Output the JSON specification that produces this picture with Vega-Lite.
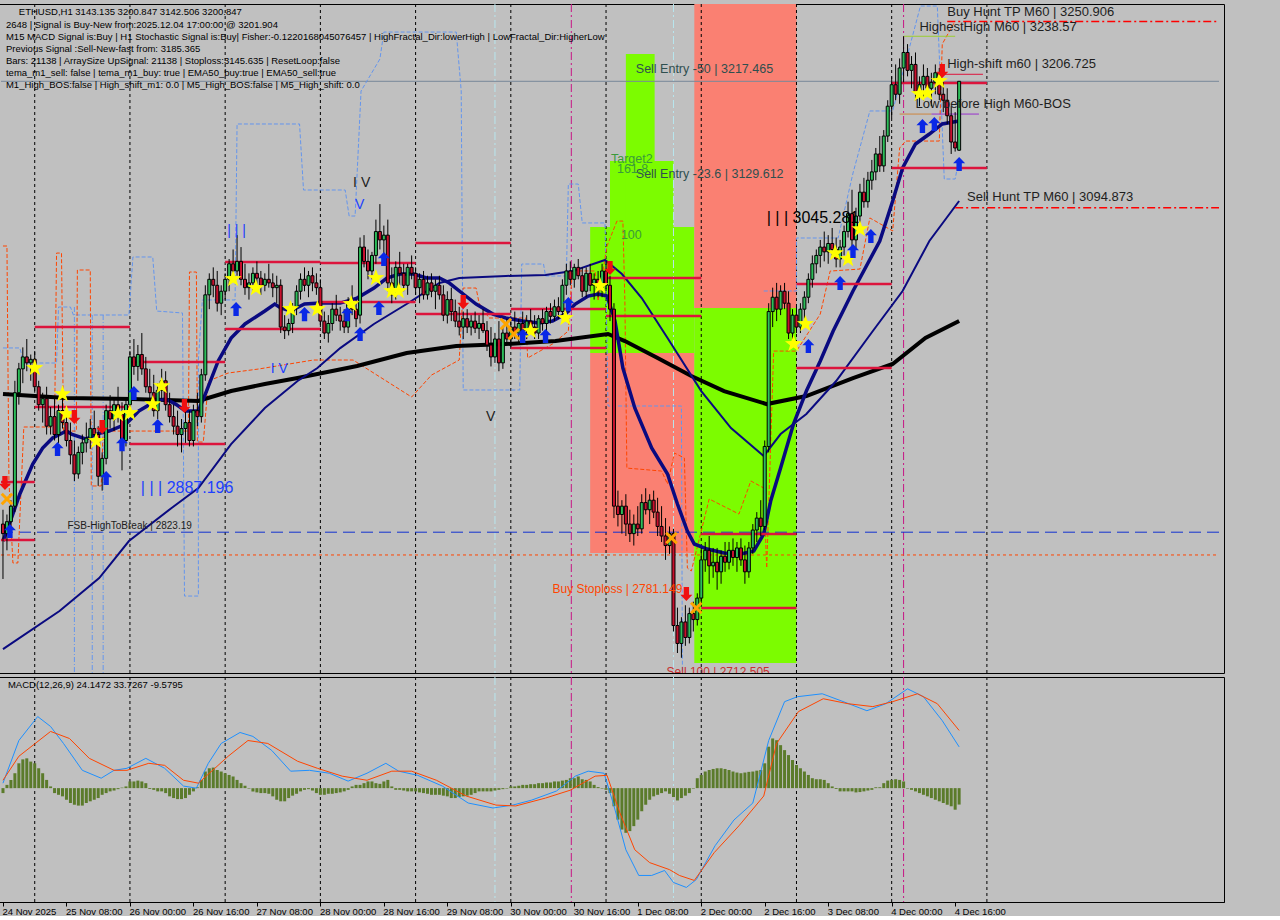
{
"$schema": "https://vega.github.io/schema/vega-lite/v6.json",
"background": "#c0c0c0",
"padding": {"left": -5, "right": 57, "top": 3, "bottom": 0},
"spacing": 2,
"config": {
 "view": {"stroke": "black", "strokeWidth": 1},
 "axis": {"labelFont": "Liberation Sans", "labelFontSize": 9.5, "labelColor": "black", "domainColor": "black", "tickColor": "black", "grid": false, "title": null, "labelFlush": false},
 "text": {"font": "Liberation Sans"}
},
"datasets": {
 "k": [
{"i":0,"o":2830,"h":2842,"l":2784,"c":2822,"g":-2.9},{"i":1,"o":2822,"h":2838,"l":2808,"c":2832,"g":1.9},{"i":2,"o":2832,"h":2850,"l":2825,"c":2845,"g":4.8},{"i":3,"o":2845,"h":2950,"l":2840,"c":2940,"g":8.7},{"i":4,"o":2940,"h":2965,"l":2930,"c":2960,"g":14.5},{"i":5,"o":2960,"h":2978,"l":2948,"c":2970,"g":16.8},{"i":6,"o":2970,"h":2985,"l":2958,"c":2965,"g":17.4},{"i":7,"o":2965,"h":2972,"l":2950,"c":2968,"g":15.5},{"i":8,"o":2968,"h":2975,"l":2940,"c":2945,"g":14.5},{"i":9,"o":2945,"h":2950,"l":2925,"c":2930,"g":11.6},
{"i":10,"o":2930,"h":2940,"l":2915,"c":2935,"g":8.7},{"i":11,"o":2935,"h":2945,"l":2905,"c":2912,"g":4.8},{"i":12,"o":2912,"h":2928,"l":2905,"c":2920,"g":1.0},{"i":13,"o":2920,"h":2935,"l":2900,"c":2905,"g":-2.9},{"i":14,"o":2905,"h":2930,"l":2898,"c":2925,"g":-3.9},{"i":15,"o":2925,"h":2940,"l":2910,"c":2915,"g":-4.8},{"i":16,"o":2915,"h":2925,"l":2895,"c":2900,"g":-6.8},{"i":17,"o":2900,"h":2915,"l":2880,"c":2888,"g":-8.7},{"i":18,"o":2888,"h":2900,"l":2866,"c":2872,"g":-9.7},{"i":19,"o":2872,"h":2895,"l":2868,"c":2890,"g":-10.2},
{"i":20,"o":2890,"h":2905,"l":2880,"c":2898,"g":-10.2},{"i":21,"o":2898,"h":2915,"l":2890,"c":2902,"g":-8.7},{"i":22,"o":2902,"h":2918,"l":2893,"c":2910,"g":-7.7},{"i":23,"o":2910,"h":2925,"l":2900,"c":2905,"g":-6.8},{"i":24,"o":2905,"h":2912,"l":2862,"c":2870,"g":-5.8},{"i":25,"o":2870,"h":2890,"l":2858,"c":2885,"g":-3.9},{"i":26,"o":2885,"h":2930,"l":2880,"c":2925,"g":-2.9},{"i":27,"o":2925,"h":2938,"l":2910,"c":2918,"g":-1.9},{"i":28,"o":2918,"h":2935,"l":2908,"c":2930,"g":-1.4},{"i":29,"o":2930,"h":2945,"l":2915,"c":2922,"g":-0.6},
{"i":30,"o":2922,"h":2932,"l":2875,"c":2900,"g":0.3},{"i":31,"o":2900,"h":2935,"l":2895,"c":2930,"g":1.0},{"i":32,"o":2930,"h":2975,"l":2925,"c":2970,"g":3.9},{"i":33,"o":2970,"h":2985,"l":2955,"c":2962,"g":3.9},{"i":34,"o":2962,"h":2980,"l":2950,"c":2972,"g":4.4},{"i":35,"o":2972,"h":2990,"l":2955,"c":2960,"g":3.9},{"i":36,"o":2960,"h":2970,"l":2940,"c":2945,"g":2.9},{"i":37,"o":2945,"h":2960,"l":2930,"c":2940,"g":-0.5},{"i":38,"o":2940,"h":2955,"l":2920,"c":2925,"g":-1.0},{"i":39,"o":2925,"h":2948,"l":2918,"c":2942,"g":-1.9},
{"i":40,"o":2942,"h":2960,"l":2935,"c":2950,"g":-1.9},{"i":41,"o":2950,"h":2958,"l":2925,"c":2930,"g":-2.9},{"i":42,"o":2930,"h":2940,"l":2915,"c":2920,"g":-4.8},{"i":43,"o":2920,"h":2930,"l":2905,"c":2912,"g":-5.8},{"i":44,"o":2912,"h":2925,"l":2895,"c":2905,"g":-6.4},{"i":45,"o":2905,"h":2918,"l":2890,"c":2910,"g":-6.4},{"i":46,"o":2910,"h":2928,"l":2898,"c":2915,"g":-5.8},{"i":47,"o":2915,"h":2925,"l":2895,"c":2900,"g":-3.9},{"i":48,"o":2900,"h":2930,"l":2895,"c":2925,"g":-1.9},{"i":49,"o":2925,"h":2940,"l":2912,"c":2920,"g":0.5},
{"i":50,"o":2920,"h":2960,"l":2915,"c":2955,"g":4.8},{"i":51,"o":2955,"h":3030,"l":2950,"c":3022,"g":9.7},{"i":52,"o":3022,"h":3040,"l":3010,"c":3035,"g":11.6},{"i":53,"o":3035,"h":3045,"l":3020,"c":3030,"g":12.0},{"i":54,"o":3030,"h":3042,"l":3008,"c":3015,"g":10.6},{"i":55,"o":3015,"h":3030,"l":3005,"c":3025,"g":9.7},{"i":56,"o":3025,"h":3040,"l":3018,"c":3035,"g":8.7},{"i":57,"o":3035,"h":3052,"l":3025,"c":3048,"g":7.7},{"i":58,"o":3048,"h":3060,"l":3035,"c":3042,"g":6.8},{"i":59,"o":3042,"h":3072,"l":3038,"c":3050,"g":4.8},
{"i":60,"o":3050,"h":3062,"l":3030,"c":3035,"g":2.9},{"i":61,"o":3035,"h":3048,"l":3022,"c":3028,"g":1.4},{"i":62,"o":3028,"h":3040,"l":3018,"c":3032,"g":-0.3},{"i":63,"o":3032,"h":3045,"l":3025,"c":3040,"g":-1.9},{"i":64,"o":3040,"h":3050,"l":3030,"c":3036,"g":-2.5},{"i":65,"o":3036,"h":3042,"l":3022,"c":3030,"g":-2.9},{"i":66,"o":3030,"h":3040,"l":3025,"c":3035,"g":-2.9},{"i":67,"o":3035,"h":3048,"l":3028,"c":3032,"g":-3.3},{"i":68,"o":3032,"h":3040,"l":3020,"c":3028,"g":-4.8},{"i":69,"o":3028,"h":3038,"l":3015,"c":3030,"g":-6.8},
{"i":70,"o":3030,"h":3035,"l":2990,"c":2995,"g":-7.7},{"i":71,"o":2995,"h":3005,"l":2985,"c":2992,"g":-7.7},{"i":72,"o":2992,"h":3002,"l":2988,"c":2998,"g":-5.8},{"i":73,"o":2998,"h":3015,"l":2990,"c":3012,"g":-4.4},{"i":74,"o":3012,"h":3030,"l":3005,"c":3025,"g":-3.3},{"i":75,"o":3025,"h":3040,"l":3018,"c":3035,"g":-1.9},{"i":76,"o":3035,"h":3045,"l":3025,"c":3030,"g":-1.0},{"i":77,"o":3030,"h":3042,"l":3020,"c":3038,"g":-0.6},{"i":78,"o":3038,"h":3045,"l":3025,"c":3032,"g":-1.4},{"i":79,"o":3032,"h":3040,"l":3022,"c":3028,"g":-2.9},
{"i":80,"o":3028,"h":3035,"l":2995,"c":3000,"g":-3.9},{"i":81,"o":3000,"h":3008,"l":2985,"c":2990,"g":-3.9},{"i":82,"o":2990,"h":3005,"l":2982,"c":2998,"g":-3.3},{"i":83,"o":2998,"h":3015,"l":2992,"c":3010,"g":-3.3},{"i":84,"o":3010,"h":3022,"l":3000,"c":3005,"g":-2.9},{"i":85,"o":3005,"h":3012,"l":2992,"c":3000,"g":-2.5},{"i":86,"o":3000,"h":3010,"l":2990,"c":2995,"g":-1.9},{"i":87,"o":2995,"h":3020,"l":2990,"c":3015,"g":-1.0},{"i":88,"o":3015,"h":3030,"l":3005,"c":3010,"g":1.0},{"i":89,"o":3010,"h":3018,"l":2995,"c":3002,"g":1.9},
{"i":90,"o":3005,"h":3070,"l":2998,"c":3062,"g":1.9},{"i":91,"o":3062,"h":3072,"l":3045,"c":3050,"g":2.9},{"i":92,"o":3050,"h":3060,"l":3035,"c":3042,"g":3.9},{"i":93,"o":3042,"h":3058,"l":3035,"c":3055,"g":3.9},{"i":94,"o":3055,"h":3085,"l":3048,"c":3075,"g":2.9},{"i":95,"o":3075,"h":3098,"l":3060,"c":3068,"g":2.5},{"i":96,"o":3068,"h":3080,"l":3055,"c":3072,"g":3.9},{"i":97,"o":3072,"h":3085,"l":3025,"c":3032,"g":4.8},{"i":98,"o":3032,"h":3045,"l":3015,"c":3022,"g":1.0},{"i":99,"o":3022,"h":3050,"l":3018,"c":3045,"g":-1.0},
{"i":100,"o":3045,"h":3058,"l":3030,"c":3040,"g":-1.0},{"i":101,"o":3040,"h":3048,"l":3025,"c":3030,"g":-1.4},{"i":102,"o":3030,"h":3048,"l":3022,"c":3045,"g":-1.9},{"i":103,"o":3045,"h":3055,"l":3035,"c":3040,"g":-1.9},{"i":104,"o":3040,"h":3045,"l":3022,"c":3028,"g":-1.9},{"i":105,"o":3028,"h":3040,"l":3015,"c":3035,"g":-2.5},{"i":106,"o":3035,"h":3042,"l":3018,"c":3022,"g":-2.9},{"i":107,"o":3022,"h":3038,"l":3018,"c":3032,"g":-3.3},{"i":108,"o":3032,"h":3040,"l":3020,"c":3025,"g":-3.9},{"i":109,"o":3025,"h":3035,"l":3010,"c":3030,"g":-3.9},
{"i":110,"o":3030,"h":3038,"l":3018,"c":3022,"g":-3.9},{"i":111,"o":3022,"h":3030,"l":3000,"c":3005,"g":-4.4},{"i":112,"o":3005,"h":3025,"l":2998,"c":3018,"g":-4.8},{"i":113,"o":3018,"h":3028,"l":3000,"c":3008,"g":-5.8},{"i":114,"o":3008,"h":3018,"l":2995,"c":3000,"g":-5.8},{"i":115,"o":3000,"h":3012,"l":2988,"c":2995,"g":-5.2},{"i":116,"o":2995,"h":3008,"l":2985,"c":3002,"g":-4.8},{"i":117,"o":3002,"h":3010,"l":2990,"c":2995,"g":-4.4},{"i":118,"o":2995,"h":3005,"l":2988,"c":3000,"g":-3.9},{"i":119,"o":3000,"h":3008,"l":2990,"c":2994,"g":-2.9},
{"i":120,"o":2994,"h":3005,"l":2985,"c":2998,"g":-1.9},{"i":121,"o":2998,"h":3010,"l":2990,"c":2992,"g":-1.9},{"i":122,"o":2992,"h":3000,"l":2975,"c":2980,"g":-1.9},{"i":123,"o":2980,"h":2995,"l":2962,"c":2970,"g":-1.9},{"i":124,"o":2970,"h":2990,"l":2965,"c":2985,"g":-1.4},{"i":125,"o":2985,"h":3000,"l":2958,"c":2965,"g":-1.0},{"i":126,"o":2965,"h":2995,"l":2960,"c":2990,"g":-0.6},{"i":127,"o":2990,"h":3002,"l":2980,"c":2985,"g":-0.3},{"i":128,"o":2985,"h":3000,"l":2978,"c":2995,"g":1.0},{"i":129,"o":2995,"h":3008,"l":2985,"c":2990,"g":1.0},
{"i":130,"o":2990,"h":3002,"l":2982,"c":2998,"g":1.4},{"i":131,"o":2998,"h":3008,"l":2988,"c":2992,"g":1.9},{"i":132,"o":2992,"h":3005,"l":2985,"c":3000,"g":1.9},{"i":133,"o":3000,"h":3010,"l":2990,"c":2995,"g":2.3},{"i":134,"o":2995,"h":3005,"l":2985,"c":2990,"g":2.3},{"i":135,"o":2990,"h":3005,"l":2985,"c":3002,"g":2.9},{"i":136,"o":3002,"h":3010,"l":2992,"c":2998,"g":2.9},{"i":137,"o":2998,"h":3012,"l":2990,"c":3008,"g":3.3},{"i":138,"o":3008,"h":3015,"l":2998,"c":3004,"g":3.3},{"i":139,"o":3004,"h":3018,"l":3000,"c":3012,"g":3.9},
{"i":140,"o":3012,"h":3020,"l":3002,"c":3008,"g":3.9},{"i":141,"o":3008,"h":3035,"l":3005,"c":3030,"g":4.4},{"i":142,"o":3030,"h":3048,"l":3022,"c":3042,"g":4.8},{"i":143,"o":3042,"h":3050,"l":3030,"c":3035,"g":5.8},{"i":144,"o":3035,"h":3048,"l":3028,"c":3045,"g":5.8},{"i":145,"o":3045,"h":3052,"l":3035,"c":3038,"g":6.8},{"i":146,"o":3038,"h":3045,"l":3020,"c":3025,"g":5.2},{"i":147,"o":3025,"h":3045,"l":3020,"c":3040,"g":4.8},{"i":148,"o":3040,"h":3048,"l":3025,"c":3030,"g":3.9},{"i":149,"o":3030,"h":3040,"l":3018,"c":3035,"g":1.9},
{"i":150,"o":3035,"h":3042,"l":3020,"c":3028,"g":0.6},{"i":151,"o":3028,"h":3048,"l":3020,"c":3042,"g":-0.3},{"i":152,"o":3042,"h":3050,"l":3025,"c":3030,"g":-1.0},{"i":153,"o":3030,"h":3038,"l":3000,"c":3010,"g":-2.9},{"i":154,"o":3010,"h":3015,"l":2835,"c":2845,"g":-10.6},{"i":155,"o":2845,"h":2858,"l":2828,"c":2838,"g":-18.4},{"i":156,"o":2838,"h":2850,"l":2822,"c":2845,"g":-24.2},{"i":157,"o":2845,"h":2855,"l":2820,"c":2830,"g":-26.1},{"i":158,"o":2830,"h":2842,"l":2815,"c":2822,"g":-25.1},{"i":159,"o":2822,"h":2838,"l":2812,"c":2830,"g":-22.2},
{"i":160,"o":2830,"h":2845,"l":2820,"c":2826,"g":-18.4},{"i":161,"o":2826,"h":2855,"l":2822,"c":2848,"g":-13.5},{"i":162,"o":2848,"h":2860,"l":2838,"c":2842,"g":-9.7},{"i":163,"o":2842,"h":2855,"l":2830,"c":2850,"g":-6.8},{"i":164,"o":2850,"h":2858,"l":2835,"c":2840,"g":-4.8},{"i":165,"o":2840,"h":2852,"l":2820,"c":2828,"g":-3.9},{"i":166,"o":2828,"h":2845,"l":2815,"c":2820,"g":-2.9},{"i":167,"o":2820,"h":2835,"l":2800,"c":2812,"g":-1.9},{"i":168,"o":2812,"h":2828,"l":2805,"c":2822,"g":-3.3},{"i":169,"o":2822,"h":2826,"l":2740,"c":2745,"g":-5.2},
{"i":170,"o":2745,"h":2760,"l":2722,"c":2730,"g":-7.2},{"i":171,"o":2730,"h":2752,"l":2718,"c":2748,"g":-5.8},{"i":172,"o":2748,"h":2762,"l":2728,"c":2735,"g":-4.4},{"i":173,"o":2735,"h":2760,"l":2730,"c":2755,"g":-2.9},{"i":174,"o":2755,"h":2765,"l":2740,"c":2750,"g":-0.3},{"i":175,"o":2750,"h":2772,"l":2745,"c":2768,"g":5.8},{"i":176,"o":2768,"h":2810,"l":2762,"c":2800,"g":7.7},{"i":177,"o":2800,"h":2815,"l":2790,"c":2808,"g":9.7},{"i":178,"o":2808,"h":2820,"l":2780,"c":2795,"g":10.6},{"i":179,"o":2795,"h":2810,"l":2785,"c":2798,"g":11.2},
{"i":180,"o":2798,"h":2810,"l":2775,"c":2790,"g":11.6},{"i":181,"o":2790,"h":2808,"l":2780,"c":2803,"g":11.6},{"i":182,"o":2803,"h":2815,"l":2790,"c":2798,"g":11.2},{"i":183,"o":2798,"h":2815,"l":2792,"c":2808,"g":10.6},{"i":184,"o":2808,"h":2818,"l":2795,"c":2802,"g":9.7},{"i":185,"o":2802,"h":2815,"l":2790,"c":2810,"g":9.1},{"i":186,"o":2810,"h":2818,"l":2795,"c":2800,"g":8.7},{"i":187,"o":2800,"h":2812,"l":2780,"c":2790,"g":9.1},{"i":188,"o":2790,"h":2815,"l":2785,"c":2810,"g":9.5},{"i":189,"o":2810,"h":2830,"l":2805,"c":2825,"g":9.7},
{"i":190,"o":2825,"h":2840,"l":2815,"c":2835,"g":10.2},{"i":191,"o":2835,"h":2850,"l":2820,"c":2828,"g":10.6},{"i":192,"o":2828,"h":2900,"l":2825,"c":2895,"g":14.5},{"i":193,"o":2895,"h":3015,"l":2890,"c":3008,"g":24.2},{"i":194,"o":3008,"h":3028,"l":2995,"c":3020,"g":29.0},{"i":195,"o":3020,"h":3032,"l":3000,"c":3010,"g":28.0},{"i":196,"o":3010,"h":3030,"l":3005,"c":3025,"g":25.1},{"i":197,"o":3025,"h":3032,"l":3010,"c":3015,"g":22.2},{"i":198,"o":3015,"h":3025,"l":2985,"c":2990,"g":19.3},{"i":199,"o":2990,"h":3010,"l":2982,"c":3005,"g":16.4},
{"i":200,"o":3005,"h":3012,"l":2990,"c":2995,"g":13.5},{"i":201,"o":2995,"h":3015,"l":2990,"c":3010,"g":11.6},{"i":202,"o":3010,"h":3025,"l":3002,"c":3020,"g":9.7},{"i":203,"o":3020,"h":3040,"l":3015,"c":3035,"g":7.7},{"i":204,"o":3035,"h":3055,"l":3028,"c":3048,"g":5.8},{"i":205,"o":3048,"h":3060,"l":3040,"c":3055,"g":5.2},{"i":206,"o":3055,"h":3068,"l":3045,"c":3062,"g":5.2},{"i":207,"o":3062,"h":3075,"l":3050,"c":3058,"g":4.8},{"i":208,"o":3058,"h":3072,"l":3048,"c":3065,"g":2.9},{"i":209,"o":3065,"h":3078,"l":3055,"c":3060,"g":1.0},
{"i":210,"o":3060,"h":3070,"l":3045,"c":3052,"g":-0.5},{"i":211,"o":3052,"h":3068,"l":3045,"c":3062,"g":-1.9},{"i":212,"o":3062,"h":3080,"l":3055,"c":3075,"g":-1.9},{"i":213,"o":3075,"h":3100,"l":3070,"c":3090,"g":-1.9},{"i":214,"o":3090,"h":3110,"l":3060,"c":3068,"g":-1.9},{"i":215,"o":3068,"h":3095,"l":3060,"c":3088,"g":-2.5},{"i":216,"o":3088,"h":3115,"l":3080,"c":3108,"g":-2.3},{"i":217,"o":3108,"h":3120,"l":3095,"c":3100,"g":-1.9},{"i":218,"o":3100,"h":3125,"l":3095,"c":3118,"g":-1.4},{"i":219,"o":3118,"h":3135,"l":3110,"c":3125,"g":-1.0},
{"i":220,"o":3125,"h":3145,"l":3118,"c":3140,"g":0.5},{"i":221,"o":3140,"h":3155,"l":3125,"c":3130,"g":0.5},{"i":222,"o":3130,"h":3160,"l":3125,"c":3155,"g":2.9},{"i":223,"o":3155,"h":3185,"l":3150,"c":3180,"g":4.4},{"i":224,"o":3180,"h":3205,"l":3170,"c":3198,"g":4.8},{"i":225,"o":3198,"h":3215,"l":3185,"c":3190,"g":5.2},{"i":226,"o":3190,"h":3220,"l":3182,"c":3212,"g":4.8},{"i":227,"o":3212,"h":3238.57,"l":3200,"c":3225,"g":3.9},{"i":228,"o":3225,"h":3232,"l":3205,"c":3210,"g":-0.3},{"i":229,"o":3210,"h":3222,"l":3195,"c":3215,"g":-1.0},
{"i":230,"o":3215,"h":3225,"l":3185,"c":3192,"g":-1.9},{"i":231,"o":3192,"h":3205,"l":3180,"c":3198,"g":-2.9},{"i":232,"o":3198,"h":3215,"l":3185,"c":3205,"g":-3.9},{"i":233,"o":3205,"h":3212,"l":3190,"c":3195,"g":-4.8},{"i":234,"o":3195,"h":3208,"l":3180,"c":3200,"g":-5.8},{"i":235,"o":3200,"h":3215,"l":3190,"c":3208,"g":-6.8},{"i":236,"o":3208,"h":3212,"l":3185,"c":3190,"g":-7.7},{"i":237,"o":3190,"h":3200,"l":3175,"c":3185,"g":-8.7},{"i":238,"o":3185,"h":3195,"l":3165,"c":3172,"g":-9.7},{"i":239,"o":3172,"h":3180,"l":3140,"c":3150,"g":-10.6},
{"i":240,"o":3150,"h":3175,"l":3142,"c":3145,"g":-12.6},{"i":241,"o":3143.135,"h":3200.847,"l":3142.506,"c":3200.847,"g":-9.6}
 ],
 "vgrid": [{"i":8},{"i":32},{"i":56},{"i":80},{"i":104},{"i":128},{"i":152},{"i":176},{"i":200},{"i":224},{"i":248}],
 "vpink": [{"i":143.25},{"i":227}],
 "vcyan": [{"i":124},{"i":169}],
 "zones": [
  {"i":148,"i2":174.25,"p":2973.3,"p2":3078.8,"z":"buy"},
  {"i":153,"i2":169,"p":2973.3,"p2":3134.1,"z":"buy"},
  {"i":157,"i2":164.25,"p":2973.3,"p2":3223.7,"z":"buy"},
  {"i":148,"i2":174.25,"p":2805.7,"p2":2973.3,"z":"sell"},
  {"i":174.25,"i2":200,"p":3010.9,"p2":3265.6,"z":"sell"},
  {"i":174.25,"i2":200,"p":2713.6,"p2":3010.9,"z":"buy"}
 ],
 "hseg": [
  {"i":-0.5,"i2":8,"p":2865.2},{"i":-0.5,"i2":8,"p":2816.6},
  {"i":8,"i2":32,"p":2995.0},{"i":8,"i2":32,"p":2928.0},
  {"i":32,"i2":56,"p":2965.7},{"i":32,"i2":56,"p":2897.0},
  {"i":56,"i2":80,"p":3049.5},{"i":56,"i2":80,"p":2993.4},
  {"i":80,"i2":104,"p":3048.7},{"i":80,"i2":104,"p":3016.0},
  {"i":104,"i2":128,"p":3065.4},{"i":104,"i2":128,"p":3005.9},
  {"i":128,"i2":152,"p":3010.1},{"i":128,"i2":152,"p":2977.4},
  {"i":152,"i2":176,"p":3036.1},{"i":152,"i2":176,"p":3004.2},
  {"i":176,"i2":200,"p":2821.6},{"i":176,"i2":200,"p":2759.7},
  {"i":200,"i2":224,"p":3031.1},{"i":200,"i2":224,"p":2960.7},
  {"i":224,"i2":248,"p":3199.4},{"i":224,"i2":248,"p":3128.2}
 ],
 "ema1": [{"i":0,"p":2815.8},{"i":1,"p":2824.2},{"i":4.25,"p":2855.2},{"i":7.5,"p":2880.3},{"i":10,"p":2893.7},{"i":12.5,"p":2902.1},{"i":16,"p":2907.9},{"i":17.25,"p":2905.4},{"i":21,"p":2901.2},{"i":23.5,"p":2905.4},{"i":26.75,"p":2907.9},{"i":31,"p":2913.8},{"i":34.25,"p":2924.7},{"i":38.5,"p":2933.1},{"i":41,"p":2934.7},{"i":43.5,"p":2930.5},{"i":46,"p":2924.7},{"i":49.25,"p":2924.7},{"i":51,"p":2938.9},{"i":54.25,"p":2966.6},{"i":57.5,"p":2985.8},{"i":61,"p":2997.6},{"i":66,"p":3008.5},{"i":68.5,"p":3014.3},{"i":70,"p":3011.0},{"i":72.5,"p":3008.5},{"i":76,"p":3014.3},{"i":80,"p":3015.1},{"i":85,"p":3015.1},{"i":89.25,"p":3019.3},{"i":93.5,"p":3027.7},{"i":96.75,"p":3036.1},{"i":100,"p":3039.4},{"i":103.5,"p":3039.4},{"i":106.75,"p":3036.1},{"i":110,"p":3036.1},{"i":112.5,"p":3031.9},{"i":116,"p":3022.7},{"i":119.25,"p":3014.3},{"i":123.5,"p":3005.9},{"i":126.75,"p":3002.6},{"i":131,"p":3000.1},{"i":135,"p":2998.4},{"i":138.5,"p":3000.1},{"i":141.75,"p":3005.9},{"i":144.25,"p":3014.3},{"i":147.5,"p":3021.0},{"i":150,"p":3022.7},{"i":152.25,"p":3021.0},{"i":154.25,"p":3000.1},{"i":156.25,"p":2960.7},{"i":159.25,"p":2927.2},{"i":163.5,"p":2893.7},{"i":167.5,"p":2871.9},{"i":170,"p":2846.8},{"i":172.5,"p":2824.2},{"i":174.25,"p":2813.3},{"i":177.5,"p":2809.1},{"i":181.75,"p":2805.8},{"i":186,"p":2804.9},{"i":189.25,"p":2807.4},{"i":191.75,"p":2821.7},{"i":193.5,"p":2849.3},{"i":196,"p":2876.9},{"i":199.25,"p":2913.8},{"i":202.5,"p":2941.4},{"i":206,"p":2966.6},{"i":209.25,"p":2991.7},{"i":214.25,"p":3025.2},{"i":221,"p":3067.1},{"i":224.25,"p":3100.6},{"i":226.75,"p":3128.2},{"i":230,"p":3148.3},{"i":233.5,"p":3156.7},{"i":236.75,"p":3165.1},{"i":241,"p":3167.6}],
 "ema2": [{"i":0,"p":2725.3},{"i":14.25,"p":2757.2},{"i":24.25,"p":2784.8},{"i":31.75,"p":2815.8},{"i":42.5,"p":2843.5},{"i":49.25,"p":2860.2},{"i":57.5,"p":2897.0},{"i":66,"p":2927.2},{"i":74.25,"p":2949.8},{"i":79.25,"p":2960.7},{"i":85,"p":2977.4},{"i":93.5,"p":2997.6},{"i":101.75,"p":3014.3},{"i":110,"p":3031.9},{"i":115,"p":3036.1},{"i":126.75,"p":3037.8},{"i":136.75,"p":3038.6},{"i":143.5,"p":3041.9},{"i":151.75,"p":3051.2},{"i":156,"p":3039.4},{"i":161,"p":3019.3},{"i":167.5,"p":2985.8},{"i":176,"p":2941.4},{"i":183.5,"p":2910.4},{"i":191.75,"p":2887.0},{"i":196,"p":2905.4},{"i":202.5,"p":2922.2},{"i":210,"p":2949.8},{"i":219.25,"p":2991.7},{"i":226.75,"p":3025.2},{"i":233.5,"p":3067.1},{"i":241,"p":3100.6}],
 "ema3": [{"i":0,"p":2938.9},{"i":16,"p":2935.6},{"i":32.5,"p":2934.7},{"i":49.25,"p":2933.1},{"i":57.5,"p":2941.4},{"i":66,"p":2947.3},{"i":74.25,"p":2952.3},{"i":89.25,"p":2962.4},{"i":101.75,"p":2973.3},{"i":114.25,"p":2979.1},{"i":126.75,"p":2980.8},{"i":139.25,"p":2983.3},{"i":152.5,"p":2989.2},{"i":156.75,"p":2983.3},{"i":165,"p":2969.1},{"i":173.5,"p":2954.0},{"i":181.75,"p":2941.4},{"i":192.5,"p":2930.5},{"i":202.5,"p":2937.2},{"i":214.25,"p":2952.3},{"i":224.25,"p":2964.1},{"i":232.5,"p":2985.8},{"i":241,"p":3000.1}],
 "cf": [{"g":"a","i":0,"p":2977.5},{"g":"a","i":4.25,"p":2977.5},{"g":"a","i":5.25,"p":2964.9},{"g":"a","i":13.5,"p":2964.9},{"g":"a","i":14,"p":3011.8},{"g":"a","i":17,"p":3011.8},{"g":"a","i":17.75,"p":3005.1},{"g":"a","i":31.75,"p":3005.1},{"g":"a","i":32.75,"p":3053.7},{"g":"a","i":37.75,"p":3053.7},{"g":"a","i":38.75,"p":3008.4},{"g":"a","i":45.25,"p":3006.8},{"g":"a","i":45.75,"p":2769.7},{"g":"a","i":49.25,"p":2769.7},{"g":"a","i":49.25,"p":2967.4},{"g":"a","i":50.25,"p":3017.7},{"g":"a","i":58.5,"p":3017.7},{"g":"a","i":59,"p":3165.1},{"g":"a","i":74.75,"p":3165.1},{"g":"a","i":75.75,"p":3109.8},{"g":"a","i":86.25,"p":3109.8},{"g":"a","i":87.25,"p":3088.0},{"g":"a","i":88.75,"p":3088.0},{"g":"a","i":90.25,"p":3192.7},{"g":"a","i":95,"p":3219.5},{"g":"a","i":96,"p":3242.1},{"g":"a","i":114.25,"p":3242.1},{"g":"a","i":115.5,"p":3192.7},{"g":"a","i":116,"p":2942.3},{"g":"a","i":130.25,"p":2942.3},{"g":"a","i":130.75,"p":3047.8},{"g":"a","i":136.25,"p":3047.8},{"g":"a","i":136.75,"p":3037.8},{"g":"a","i":142,"p":3037.8},{"g":"a","i":142.5,"p":3114.8},{"g":"a","i":145,"p":3114.8},{"g":"a","i":146,"p":3082.2},{"g":"a","i":151.75,"p":3082.2},{"g":"a","i":152.5,"p":2928.9},{"g":"a","i":171,"p":2928.9},{"g":"a","i":171.25,"p":2706},
  {"g":"b","i":191.75,"p":3025.2},{"g":"b","i":200,"p":3025.2},{"g":"b","i":200,"p":3069.6},{"g":"b","i":210.5,"p":3069.6},{"g":"b","i":214.25,"p":3124.0},{"g":"b","i":218.5,"p":3176.0},{"g":"b","i":224.25,"p":3176.0},{"g":"b","i":231.25,"p":3263.9},{"g":"b","i":235.5,"p":3263.9},{"g":"b","i":237.25,"p":3119.0},{"g":"b","i":240,"p":3119.0},{"g":"b","i":241,"p":3136.6}],
 "orl": [{"i":0,"p":3062.9},{"i":1,"p":3062.9},{"i":1.5,"p":2866.1},{"i":2.5,"p":2797.4},{"i":3.75,"p":2797.4},{"i":5.25,"p":2911.3},{"i":13,"p":2911.3},{"i":13.5,"p":3057.0},{"i":14.75,"p":3057.0},{"i":15.25,"p":2907.9},{"i":18.5,"p":2907.9},{"i":18.75,"p":3042.8},{"i":22,"p":3042.8},{"i":22.25,"p":2861.9},{"i":24.75,"p":2861.9},{"i":25.25,"p":2907.9},{"i":46.75,"p":2907.9},{"i":47,"p":3041.1},{"i":48.75,"p":3041.1},{"i":49,"p":2898.7},{"i":50.5,"p":2898.7},{"i":51.75,"p":2949.8},{"i":56.75,"p":2956.5},{"i":64.5,"p":2959.9},{"i":78.25,"p":2967.4},{"i":88.25,"p":2967.4},{"i":94.25,"p":2954.8},{"i":103,"p":2936.4},{"i":108,"p":2954.8},{"i":115,"p":2967.4},{"i":116,"p":3027.7},{"i":119.25,"p":3027.7},{"i":120,"p":3015.1},{"i":122.5,"p":3002.6},{"i":131.75,"p":3002.6},{"i":132.25,"p":2969.1},{"i":138.5,"p":2980.8},{"i":142.5,"p":2991.7},{"i":143.5,"p":3042.0},{"i":149.25,"p":3042.0},{"i":150,"p":3016.8},{"i":152.25,"p":3062.9},{"i":154.75,"p":3083.8},{"i":156.25,"p":3083.8},{"i":156.75,"p":3016.8},{"i":157.25,"p":2876.9},{"i":166,"p":2874.4},{"i":167.5,"p":2863.5},{"i":169.25,"p":2889.5},{"i":171.75,"p":2885.3},{"i":172.5,"p":2793.2},{"i":173.5,"p":2790.7},{"i":178,"p":2851.0},{"i":185.5,"p":2838.4},{"i":188.5,"p":2866.1},{"i":191.75,"p":2860.2},{"i":192.5,"p":2793.2},{"i":194.25,"p":2974.9},{"i":200,"p":2974.9},{"i":206,"p":3005.9},{"i":208.5,"p":3041.9},{"i":216,"p":3043.6},{"i":218.5,"p":3086.4},{"i":224.25,"p":3075.5},{"i":226,"p":3145.0},{"i":227.5,"p":3150.8},{"i":236,"p":3150.8},{"i":236.75,"p":3232.1},{"i":240,"p":3251.4}],
 "stars": [{"i":8,"p":2960.7},{"i":15,"p":2938.9},{"i":16,"p":2922.2},{"i":23.5,"p":2899.6},{"i":29,"p":2922.2},{"i":32,"p":2923.0},{"i":37.75,"p":2930.5},{"i":40,"p":2945.6},{"i":58,"p":3035.3},{"i":63.75,"p":3027.7},{"i":72.5,"p":3010.1},{"i":79.25,"p":3010.1},{"i":87.75,"p":3014.3},{"i":94,"p":3036.1},{"i":98,"p":3025.2},{"i":99.75,"p":3025.2},{"i":133,"p":2991.7},{"i":141.75,"p":3002.6},{"i":150.5,"p":3029.4},{"i":199.25,"p":2980.8},{"i":202.25,"p":2997.6},{"i":209.75,"p":3057.0},{"i":213,"p":3052.0},{"i":216,"p":3077.1},{"i":231,"p":3190.2},{"i":233,"p":3191.0},{"i":236,"p":3201.1}],
 "ups": [{"i":1.75,"p":2824.2},{"i":13.75,"p":2892.9},{"i":26,"p":2868.6},{"i":30,"p":2897.0},{"i":33,"p":2939.8},{"i":39,"p":2912.1},{"i":58.75,"p":3010.1},{"i":76,"p":3005.9},{"i":86.75,"p":3005.9},{"i":90,"p":2989.2},{"i":94.75,"p":3011.0},{"i":96,"p":3052.0},{"i":131,"p":2987.5},{"i":136.75,"p":2987.5},{"i":142.5,"p":3014.3},{"i":203,"p":2979.1},{"i":211,"p":3031.9},{"i":214.25,"p":3058.7},{"i":218.75,"p":3071.3},{"i":231.75,"p":3163.4},{"i":234.75,"p":3165.1},{"i":241,"p":3131.6}],
 "downs": [{"i":0.5,"p":2864.4},{"i":18,"p":2919.7},{"i":25,"p":2911.3},{"i":45.75,"p":2928.9},{"i":116,"p":3015.9},{"i":153,"p":3044.5},{"i":172.25,"p":2771.4},{"i":236.75,"p":3209.5}],
 "xs": [{"i":1,"p":2851.0},{"i":126.75,"p":2997.6},{"i":128.75,"p":2989.2},{"i":168.5,"p":2818.3},{"i":174.75,"p":2759.7}],
 "info": [
  {"i":4,"p":3258.9,"t":"ETHUSD,H1  3143.135 3200.847 3142.506 3200.847"},
  {"i":0.75,"p":3248.0,"t":"2648 | Signal is Buy-New from:2025.12.04 17:00:00 @ 3201.904"},
  {"i":0.75,"p":3237.9,"t":"M15 MACD Signal is:Buy | H1 Stochastic Signal is:Buy| Fisher:-0.1220168045076457 | HighFractal_Dir:lowerHigh | LowFractal_Dir:HigherLow"},
  {"i":0.75,"p":3227.9,"t":"Previous Signal :Sell-New-fast from: 3185.365"},
  {"i":0.75,"p":3217.9,"t":"Bars: 21138 | ArraySize UpSignal: 21138 | Stoploss:3145.635 | ResetLoop:false"},
  {"i":0.75,"p":3207.8,"t":"tema_m1_sell: false | tema_m1_buy: true | EMA50_buy:true | EMA50_sell:true"},
  {"i":0.75,"p":3197.8,"t":"M1_High_BOS:false | High_shift_m1: 0.0 | M5_High_BOS:false | M5_High_shift: 0.0"}
 ],
 "ann": [
  {"i":238,"p":3258.9,"t":"Buy Hunt TP M60 | 3250.906"},
  {"i":231,"p":3246.3,"t":"HighestHigh   M60 | 3238.57"},
  {"i":238,"p":3215.3,"t":"High-shift m60 | 3206.725"},
  {"i":230,"p":3181.8,"t":"Low before High    M60-BOS"},
  {"i":243,"p":3103.9,"t":"Sell Hunt TP M60 | 3094.873"}
 ],
 "sellent": [
  {"i":159.5,"p":3211.1,"t":"Sell Entry -50 | 3217.465"},
  {"i":159.5,"p":3123.2,"t":"Sell Entry -23.6 | 3129.612"}
 ],
 "greentxt": [
  {"i":153.25,"p":3135.8,"t":"Target2"},
  {"i":154.75,"p":3127.4,"t":"161.8"},
  {"i":155.75,"p":3072.1,"t":"100"}
 ],
 "pticks": [{"p":3259.73},{"p":3232.34},{"p":3204.95},{"p":3176.73},{"p":3149.34},{"p":3121.95},{"p":3094.56},{"p":3066.34},{"p":3038.95},{"p":3011.56},{"p":2983.34},{"p":2955.95},{"p":2928.56},{"p":2901.17},{"p":2872.95},{"p":2845.56},{"p":2818.17},{"p":2789.95},{"p":2762.56},{"p":2735.17},{"p":2707.78}],
 "hl": [{"p":3200.847,"t":"3200.847","b":"cur"},{"p":2823.19,"t":"2823.190","b":"fsb"},{"p":2804.105,"t":"2804.105","b":"stop"}],
 "macd": [{"i":0,"v":2.9},{"i":4,"v":27.8},{"i":8.75,"v":41.8},{"i":12,"v":36.0},{"i":15.25,"v":26.1},{"i":20,"v":10.4},{"i":24.75,"v":5.8},{"i":28,"v":10.4},{"i":31.25,"v":11.6},{"i":36,"v":17.4},{"i":40.75,"v":11.6},{"i":45.5,"v":1.2},{"i":48.75,"v":0},{"i":51.75,"v":14.5},{"i":55,"v":26.1},{"i":59.75,"v":32.5},{"i":63,"v":30.2},{"i":67.75,"v":22.0},{"i":72.5,"v":9.9},{"i":77.25,"v":10.4},{"i":82.25,"v":8.7},{"i":87,"v":4.1},{"i":91.75,"v":8.7},{"i":96.5,"v":14.5},{"i":99.75,"v":9.9},{"i":104.5,"v":7.5},{"i":110.75,"v":1.2},{"i":117.25,"v":-8.7},{"i":123.5,"v":-11.6},{"i":128.5,"v":-9.9},{"i":133.25,"v":-7.0},{"i":139.5,"v":-1.7},{"i":144.25,"v":7.0},{"i":147.5,"v":9.9},{"i":151.5,"v":8.7},{"i":154,"v":-10.4},{"i":157,"v":-36.0},{"i":160.25,"v":-51.0},{"i":163.5,"v":-51.0},{"i":166.75,"v":-48.1},{"i":169,"v":-55.1},{"i":172.25,"v":-58.0},{"i":174.75,"v":-53.4},{"i":179.5,"v":-33.6},{"i":184.25,"v":-18.6},{"i":189,"v":-8.7},{"i":193,"v":27.8},{"i":197,"v":50.5},{"i":200.25,"v":53.4},{"i":206.5,"v":55.1},{"i":211.25,"v":51.0},{"i":217.75,"v":45.2},{"i":222.5,"v":49.3},{"i":228,"v":58.0},{"i":232,"v":53.4},{"i":236.75,"v":39.4},{"i":241,"v":24.1}],
 "sig": [{"i":0,"v":4.6},{"i":4,"v":18.6},{"i":12,"v":33.1},{"i":16.75,"v":29.0},{"i":21.75,"v":17.4},{"i":28,"v":10.4},{"i":31.25,"v":10.4},{"i":36.75,"v":14.5},{"i":40.75,"v":13.3},{"i":45.5,"v":4.6},{"i":49.25,"v":2.9},{"i":56.75,"v":18.6},{"i":61.75,"v":27.8},{"i":66.75,"v":26.1},{"i":74.25,"v":15.7},{"i":79.25,"v":11.6},{"i":85.5,"v":7.0},{"i":91.75,"v":4.6},{"i":98,"v":9.9},{"i":103,"v":9.9},{"i":109.25,"v":4.6},{"i":116.75,"v":-4.6},{"i":124.25,"v":-9.9},{"i":129.25,"v":-10.4},{"i":136.75,"v":-5.8},{"i":143,"v":-1.2},{"i":149.25,"v":7.0},{"i":152.25,"v":7.5},{"i":155.5,"v":-14.5},{"i":159.25,"v":-36.0},{"i":163,"v":-43.5},{"i":168,"v":-47.6},{"i":170.5,"v":-51.0},{"i":174.25,"v":-53.9},{"i":179.25,"v":-37.7},{"i":185.5,"v":-22.0},{"i":191.75,"v":-4.6},{"i":195,"v":26.1},{"i":200.5,"v":44.7},{"i":206.75,"v":52.2},{"i":213,"v":49.3},{"i":219.25,"v":47.6},{"i":224.25,"v":50.5},{"i":230.5,"v":55.1},{"i":235.5,"v":49.3},{"i":241,"v":33.7}]
},
"vconcat": [
{
 "width": 1228, "height": 669,
 "encoding": {"x": {"field": "i", "type": "quantitative", "scale": {"domain": [-0.5, 306.5], "nice": false, "zero": false}, "axis": null}},
 "layer": [
  {"data": {"name": "zones"}, "mark": {"type": "rect", "clip": true},
   "encoding": {"x2": {"field": "i2"}, "y": {"field": "p", "type": "quantitative", "scale": {"domain": [2705.25, 3265.6], "nice": false, "zero": false}, "axis": null}, "y2": {"field": "p2"},
    "fill": {"field": "z", "type": "nominal", "scale": {"domain": ["buy", "sell"], "range": ["#7cfc00", "#fa8072"]}, "legend": null}}},
  {"data": {"name": "vgrid"}, "mark": {"type": "rule", "color": "black", "strokeDash": [3, 3], "strokeWidth": 1, "clip": true}, "encoding": {}},
  {"data": {"name": "vpink"}, "mark": {"type": "rule", "color": "#c71585", "strokeDash": [8, 3, 2, 3], "strokeWidth": 1, "clip": true}, "encoding": {}},
  {"data": {"name": "vcyan"}, "mark": {"type": "rule", "color": "#b8e6ee", "strokeDash": [8, 3, 2, 3], "strokeWidth": 1, "clip": true}, "encoding": {}},
  {"data": {"values": [{"i": -0.5, "i2": 306.5, "p": 3200.847}]}, "mark": {"type": "rule", "color": "#778899", "strokeWidth": 1, "clip": true},
   "encoding": {"x2": {"field": "i2"}, "y": {"field": "p", "type": "quantitative", "scale": {"domain": [2705.25, 3265.6], "nice": false, "zero": false}, "axis": null}}},
  {"data": {"values": [{"i": -0.5, "i2": 306.5, "p": 2823.19}]}, "mark": {"type": "rule", "color": "#1030d0", "strokeWidth": 1, "strokeDash": [12, 6], "clip": true},
   "encoding": {"x2": {"field": "i2"}, "y": {"field": "p", "type": "quantitative", "scale": {"domain": [2705.25, 3265.6], "nice": false, "zero": false}, "axis": null}}},
  {"data": {"values": [{"i": -0.5, "i2": 306.5, "p": 2804.105}]}, "mark": {"type": "rule", "color": "#ff4500", "strokeWidth": 1, "strokeDash": [3, 3], "clip": true},
   "encoding": {"x2": {"field": "i2"}, "y": {"field": "p", "type": "quantitative", "scale": {"domain": [2705.25, 3265.6], "nice": false, "zero": false}, "axis": null}}},
  {"data": {"values": [{"i": 18, "p": 3011.8, "p2": 2705.3}, {"i": 22.5, "p": 3005.1, "p2": 2705.3}, {"i": 25.25, "p": 3005.1, "p2": 2705.3}]}, "mark": {"type": "rule", "color": "#6495ed", "strokeWidth": 1, "strokeDash": [5, 2, 1, 2], "clip": true},
   "encoding": {"y": {"field": "p", "type": "quantitative", "scale": {"domain": [2705.25, 3265.6], "nice": false, "zero": false}, "axis": null}, "y2": {"field": "p2"}}},
  {"data": {"name": "cf"}, "mark": {"type": "line", "color": "#6495ed", "strokeWidth": 1, "strokeDash": [4, 2], "clip": true},
   "encoding": {"y": {"field": "p", "type": "quantitative", "scale": {"domain": [2705.25, 3265.6], "nice": false, "zero": false}, "axis": null}, "detail": {"field": "g"}, "order": {"value": 0}}},
  {"data": {"name": "orl"}, "mark": {"type": "line", "color": "#ff4500", "strokeWidth": 1, "strokeDash": [4, 2], "clip": true},
   "encoding": {"y": {"field": "p", "type": "quantitative", "scale": {"domain": [2705.25, 3265.6], "nice": false, "zero": false}, "axis": null}, "order": {"value": 0}}},
  {"data": {"name": "ema3"}, "mark": {"type": "line", "color": "black", "strokeWidth": 4, "clip": true},
   "encoding": {"y": {"field": "p", "type": "quantitative", "scale": {"domain": [2705.25, 3265.6], "nice": false, "zero": false}, "axis": null}}},
  {"data": {"name": "ema2"}, "mark": {"type": "line", "color": "#0a0a80", "strokeWidth": 2, "clip": true},
   "encoding": {"y": {"field": "p", "type": "quantitative", "scale": {"domain": [2705.25, 3265.6], "nice": false, "zero": false}, "axis": null}}},
  {"data": {"name": "ema1"}, "mark": {"type": "line", "color": "#0a0a80", "strokeWidth": 3.5, "clip": true},
   "encoding": {"y": {"field": "p", "type": "quantitative", "scale": {"domain": [2705.25, 3265.6], "nice": false, "zero": false}, "axis": null}}},
  {"data": {"name": "hseg"}, "mark": {"type": "rule", "color": "#dc143c", "strokeWidth": 2.5, "clip": true},
   "encoding": {"x2": {"field": "i2"}, "y": {"field": "p", "type": "quantitative", "scale": {"domain": [2705.25, 3265.6], "nice": false, "zero": false}, "axis": null}}},
  {"data": {"values": [{"i": 238, "i2": 306.5, "p": 3250.906}, {"i": 240, "i2": 306.5, "p": 3094.873}]}, "mark": {"type": "rule", "color": "#ff0000", "strokeWidth": 1.5, "strokeDash": [8, 3, 2, 3], "clip": true},
   "encoding": {"x2": {"field": "i2"}, "y": {"field": "p", "type": "quantitative", "scale": {"domain": [2705.25, 3265.6], "nice": false, "zero": false}, "axis": null}}},
  {"data": {"values": [{"i": 227, "i2": 240, "p": 3238.57}]}, "mark": {"type": "rule", "color": "#9acd32", "strokeWidth": 1, "clip": true},
   "encoding": {"x2": {"field": "i2"}, "y": {"field": "p", "type": "quantitative", "scale": {"domain": [2705.25, 3265.6], "nice": false, "zero": false}, "axis": null}}},
  {"data": {"values": [{"i": 235, "i2": 247, "p": 3206.725}]}, "mark": {"type": "rule", "color": "#dc143c", "strokeWidth": 1, "clip": true},
   "encoding": {"x2": {"field": "i2"}, "y": {"field": "p", "type": "quantitative", "scale": {"domain": [2705.25, 3265.6], "nice": false, "zero": false}, "axis": null}}},
  {"data": {"values": [{"i": 234, "i2": 246, "p": 3173.4}]}, "mark": {"type": "rule", "color": "#9932cc", "strokeWidth": 1, "clip": true},
   "encoding": {"x2": {"field": "i2"}, "y": {"field": "p", "type": "quantitative", "scale": {"domain": [2705.25, 3265.6], "nice": false, "zero": false}, "axis": null}}},
  {"data": {"values": [{"i": 226, "i2": 234, "p": 3173.4}]}, "mark": {"type": "rule", "color": "#cd853f", "strokeWidth": 1, "clip": true},
   "encoding": {"x2": {"field": "i2"}, "y": {"field": "p", "type": "quantitative", "scale": {"domain": [2705.25, 3265.6], "nice": false, "zero": false}, "axis": null}}},
  {"data": {"name": "k"}, "mark": {"type": "rule", "color": "black", "strokeWidth": 1, "clip": true},
   "encoding": {"y": {"field": "l", "type": "quantitative", "scale": {"domain": [2705.25, 3265.6], "nice": false, "zero": false}, "axis": null}, "y2": {"field": "h"}}},
  {"data": {"name": "k"}, "mark": {"type": "bar", "size": 3, "stroke": "black", "strokeWidth": 1, "clip": true},
   "encoding": {"y": {"field": "o", "type": "quantitative", "scale": {"domain": [2705.25, 3265.6], "nice": false, "zero": false}, "axis": null}, "y2": {"field": "c"},
    "fill": {"condition": {"test": "datum.c >= datum.o", "value": "#2dbe5a"}, "value": "#c8102e"}}},
  {"data": {"name": "stars"}, "mark": {"type": "point", "shape": "M0,-1L0.235,-0.324L0.951,-0.309L0.38,0.124L0.588,0.809L0,0.4L-0.588,0.809L-0.38,0.124L-0.951,-0.309L-0.235,-0.324Z", "filled": true, "color": "#ffff00", "opacity": 1, "size": 324, "clip": true},
   "encoding": {"y": {"field": "p", "type": "quantitative", "scale": {"domain": [2705.25, 3265.6], "nice": false, "zero": false}, "axis": null}}},
  {"data": {"name": "ups"}, "mark": {"type": "point", "shape": "M0,-1L0.85,-0.1L0.38,-0.1L0.38,1L-0.38,1L-0.38,-0.1L-0.85,-0.1Z", "filled": true, "color": "#0a28e6", "opacity": 1, "size": 200, "clip": true},
   "encoding": {"y": {"field": "p", "type": "quantitative", "scale": {"domain": [2705.25, 3265.6], "nice": false, "zero": false}, "axis": null}}},
  {"data": {"name": "downs"}, "mark": {"type": "point", "shape": "M0,1L0.85,0.1L0.38,0.1L0.38,-1L-0.38,-1L-0.38,0.1L-0.85,0.1Z", "filled": true, "color": "#f01010", "opacity": 1, "size": 200, "clip": true},
   "encoding": {"y": {"field": "p", "type": "quantitative", "scale": {"domain": [2705.25, 3265.6], "nice": false, "zero": false}, "axis": null}}},
  {"data": {"name": "xs"}, "mark": {"type": "point", "shape": "M-1,-1L1,1M1,-1L-1,1", "filled": false, "color": "#ffa500", "strokeWidth": 3, "opacity": 1, "size": 110, "clip": true},
   "encoding": {"y": {"field": "p", "type": "quantitative", "scale": {"domain": [2705.25, 3265.6], "nice": false, "zero": false}, "axis": null}}},
  {"data": {"name": "info"}, "mark": {"type": "text", "align": "left", "baseline": "middle", "fontSize": 9.5, "color": "black", "clip": true},
   "encoding": {"y": {"field": "p", "type": "quantitative", "scale": {"domain": [2705.25, 3265.6], "nice": false, "zero": false}, "axis": null}, "text": {"field": "t"}}},
  {"data": {"name": "ann"}, "mark": {"type": "text", "align": "left", "baseline": "middle", "fontSize": 13, "color": "#1e1e1e", "clip": true},
   "encoding": {"y": {"field": "p", "type": "quantitative", "scale": {"domain": [2705.25, 3265.6], "nice": false, "zero": false}, "axis": null}, "text": {"field": "t"}}},
  {"data": {"name": "sellent"}, "mark": {"type": "text", "align": "left", "baseline": "middle", "fontSize": 12.5, "color": "#2f4f4f", "clip": true},
   "encoding": {"y": {"field": "p", "type": "quantitative", "scale": {"domain": [2705.25, 3265.6], "nice": false, "zero": false}, "axis": null}, "text": {"field": "t"}}},
  {"data": {"name": "greentxt"}, "mark": {"type": "text", "align": "left", "baseline": "middle", "fontSize": 12.5, "color": "#3a9a3a", "clip": true},
   "encoding": {"y": {"field": "p", "type": "quantitative", "scale": {"domain": [2705.25, 3265.6], "nice": false, "zero": false}, "axis": null}, "text": {"field": "t"}}},
  {"data": {"values": [{"i": 138.5, "p": 2775.6, "t": "Buy Stoploss | 2781.149"}]}, "mark": {"type": "text", "align": "left", "baseline": "middle", "fontSize": 12, "color": "#ff4500", "clip": true},
   "encoding": {"y": {"field": "p", "type": "quantitative", "scale": {"domain": [2705.25, 3265.6], "nice": false, "zero": false}, "axis": null}, "text": {"field": "t"}}},
  {"data": {"values": [{"i": 167.25, "p": 2705.8, "t": "Sell 100 | 2712.505"}]}, "mark": {"type": "text", "align": "left", "baseline": "middle", "fontSize": 12, "color": "#c83030", "clip": true},
   "encoding": {"y": {"field": "p", "type": "quantitative", "scale": {"domain": [2705.25, 3265.6], "nice": false, "zero": false}, "axis": null}, "text": {"field": "t"}}},
  {"data": {"values": [{"i": 192.5, "p": 3086.3, "t": "| | | 3045.281"}]}, "mark": {"type": "text", "align": "left", "baseline": "middle", "fontSize": 16, "color": "black", "clip": true},
   "encoding": {"y": {"field": "p", "type": "quantitative", "scale": {"domain": [2705.25, 3265.6], "nice": false, "zero": false}, "axis": null}, "text": {"field": "t"}}},
  {"data": {"values": [{"i": 34.75, "p": 2860.2, "t": "| | | 2887.196"}]}, "mark": {"type": "text", "align": "left", "baseline": "middle", "fontSize": 16, "color": "#2040ff", "clip": true},
   "encoding": {"y": {"field": "p", "type": "quantitative", "scale": {"domain": [2705.25, 3265.6], "nice": false, "zero": false}, "axis": null}, "text": {"field": "t"}}},
  {"data": {"values": [{"i": 16.25, "p": 2828.4, "t": "FSB-HighToBreak | 2823.19"}]}, "mark": {"type": "text", "align": "left", "baseline": "middle", "fontSize": 10, "color": "#202020", "clip": true},
   "encoding": {"y": {"field": "p", "type": "quantitative", "scale": {"domain": [2705.25, 3265.6], "nice": false, "zero": false}, "axis": null}, "text": {"field": "t"}}},
  {"data": {"values": [{"i": 88.25, "p": 3116.0, "t": "I V"}, {"i": 121.75, "p": 2919.7, "t": "V"}]}, "mark": {"type": "text", "align": "left", "baseline": "middle", "fontSize": 14, "color": "#202020", "clip": true},
   "encoding": {"y": {"field": "p", "type": "quantitative", "scale": {"domain": [2705.25, 3265.6], "nice": false, "zero": false}, "axis": null}, "text": {"field": "t"}}},
  {"data": {"values": [{"i": 88.75, "p": 3097.2, "t": "V"}, {"i": 56.5, "p": 3075.5, "t": "| | |"}, {"i": 67.5, "p": 2959.9, "t": "I V"}]}, "mark": {"type": "text", "align": "left", "baseline": "middle", "fontSize": 14, "color": "#2040ff", "clip": true},
   "encoding": {"y": {"field": "p", "type": "quantitative", "scale": {"domain": [2705.25, 3265.6], "nice": false, "zero": false}, "axis": null}, "text": {"field": "t"}}},
  {"data": {"name": "pticks"}, "mark": {"type": "tick", "orient": "horizontal", "color": "black", "size": 4, "thickness": 1, "xOffset": 2},
   "encoding": {"x": {"datum": 306.5}, "y": {"field": "p", "type": "quantitative", "scale": {"domain": [2705.25, 3265.6], "nice": false, "zero": false}, "axis": null}}},
  {"data": {"name": "pticks"}, "mark": {"type": "text", "align": "left", "baseline": "middle", "fontSize": 9.5, "color": "black", "dx": 6},
   "encoding": {"x": {"datum": 306.5}, "y": {"field": "p", "type": "quantitative", "scale": {"domain": [2705.25, 3265.6], "nice": false, "zero": false}, "axis": null}, "text": {"field": "p", "format": ".3f"}}},
  {"data": {"name": "hl"}, "mark": {"type": "point", "shape": "M-1,-0.25L1,-0.25L1,0.25L-1,0.25Z", "filled": true, "opacity": 1, "size": 2209, "xOffset": 27},
   "encoding": {"x": {"datum": 306.5}, "y": {"field": "p", "type": "quantitative", "scale": {"domain": [2705.25, 3265.6], "nice": false, "zero": false}, "axis": null},
    "color": {"field": "b", "type": "nominal", "scale": {"domain": ["cur", "fsb", "stop"], "range": ["#000000", "#1e3cc8", "#f0501e"]}, "legend": null}}},
  {"data": {"name": "hl"}, "mark": {"type": "text", "align": "left", "baseline": "middle", "fontSize": 9.5, "color": "white", "dx": 6},
   "encoding": {"x": {"datum": 306.5}, "y": {"field": "p", "type": "quantitative", "scale": {"domain": [2705.25, 3265.6], "nice": false, "zero": false}, "axis": null}, "text": {"field": "t"}}}
 ]
},
{
 "width": 1228, "height": 225,
 "encoding": {"x": {"field": "i", "type": "quantitative", "scale": {"domain": [-0.5, 306.5], "nice": false, "zero": false},
   "axis": {"orient": "bottom", "values": [0, 16, 32, 48, 64, 80, 96, 112, 128, 144, 160, 176, 192, 208, 224, 240],
    "labelExpr": "['24 Nov 2025','25 Nov 08:00','26 Nov 00:00','26 Nov 16:00','27 Nov 08:00','28 Nov 00:00','28 Nov 16:00','29 Nov 08:00','30 Nov 00:00','30 Nov 16:00','1 Dec 08:00','2 Dec 00:00','2 Dec 16:00','3 Dec 08:00','4 Dec 00:00','4 Dec 16:00'][round(datum.value/16)]",
    "labelAlign": "left", "labelOffset": -1, "labelOverlap": false, "labelBound": false, "labelFlush": false, "tickSize": 4, "labelPadding": 0, "title": null}}},
 "layer": [
  {"data": {"name": "vgrid"}, "mark": {"type": "rule", "color": "black", "strokeDash": [3, 3], "strokeWidth": 1, "clip": true}, "encoding": {}},
  {"data": {"name": "vpink"}, "mark": {"type": "rule", "color": "#c71585", "strokeDash": [8, 3, 2, 3], "strokeWidth": 1, "clip": true}, "encoding": {}},
  {"data": {"name": "vcyan"}, "mark": {"type": "rule", "color": "#b8e6ee", "strokeDash": [8, 3, 2, 3], "strokeWidth": 1, "clip": true}, "encoding": {}},
  {"data": {"name": "k"}, "mark": {"type": "bar", "size": 3, "color": "#5b7b2b", "clip": true},
   "encoding": {"y": {"field": "g", "type": "quantitative", "scale": {"domain": [-66.5, 64.9], "nice": false, "zero": false},
     "axis": {"orient": "right", "values": [61.4523, 0, -61.8103], "labelExpr": "datum.value == 0 ? '0.00' : format(datum.value, '.4f')", "tickSize": 4, "labelPadding": 2, "title": null}},
    "y2": {"datum": 0}}},
  {"data": {"name": "macd"}, "mark": {"type": "line", "color": "#1e90ff", "strokeWidth": 1, "clip": true},
   "encoding": {"y": {"field": "v", "type": "quantitative", "scale": {"domain": [-66.5, 64.9], "nice": false, "zero": false}, "axis": null}}},
  {"data": {"name": "sig"}, "mark": {"type": "line", "color": "#ff4500", "strokeWidth": 1, "clip": true},
   "encoding": {"y": {"field": "v", "type": "quantitative", "scale": {"domain": [-66.5, 64.9], "nice": false, "zero": false}, "axis": null}}},
  {"data": {"values": [{"i": 1.25, "v": 60.2, "t": "MACD(12,26,9) 24.1472 33.7267 -9.5795"}]}, "mark": {"type": "text", "align": "left", "baseline": "middle", "fontSize": 9.5, "color": "black", "clip": true},
   "encoding": {"y": {"field": "v", "type": "quantitative", "scale": {"domain": [-66.5, 64.9], "nice": false, "zero": false}, "axis": null}, "text": {"field": "t"}}}
 ]
}
]
}
